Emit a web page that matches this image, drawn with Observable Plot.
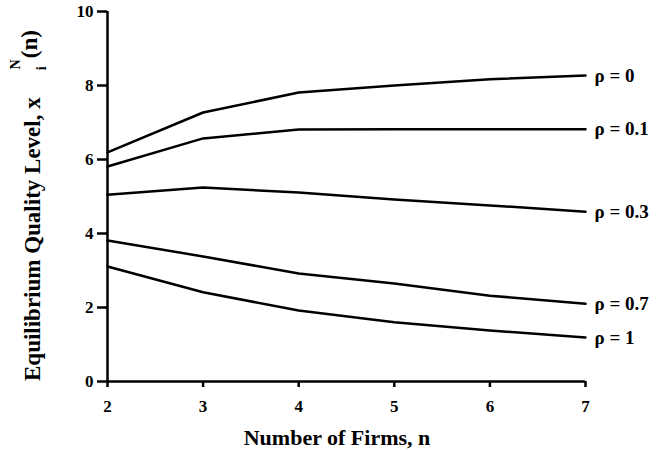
<!DOCTYPE html>
<html><head><meta charset="utf-8">
<script src="https://cdn.jsdelivr.net/npm/d3@7"></script>
<script src="https://cdn.jsdelivr.net/npm/@observablehq/plot@0.6"></script>
<style>
body{margin:0;background:#fff;}
</style></head>
<body><div id="chart"></div>
<script>
const firms = [2, 3, 4, 5, 6, 7];
const seriesLabels = ["ρ = 0", "ρ = 0.1", "ρ = 0.3", "ρ = 0.7", "ρ = 1"];
const rho0   = [6.19, 7.27, 7.81, 8.00, 8.17, 8.27];
const rho01  = [5.81, 6.57, 6.81, 6.82, 6.82, 6.82];
const rho03  = [5.05, 5.24, 5.11, 4.92, 4.76, 4.59];
const rho07  = [3.81, 3.38, 2.92, 2.65, 2.32, 2.10];
const rho1   = [3.11, 2.41, 1.92, 1.60, 1.38, 1.19];
const xTicks = [2, 3, 4, 5, 6, 7];
const yTicks = [0, 2, 4, 6, 8, 10];

const allSeries = [rho0, rho01, rho03, rho07, rho1];
const data = [];
allSeries.forEach((vals, i) => vals.forEach((v, j) => data.push({n: firms[j], x: v, s: seriesLabels[i]})));
const ends = allSeries.map((vals, i) => ({n: firms[firms.length - 1], x: vals[vals.length - 1], s: seriesLabels[i]}));

const FONT = "'Liberation Serif', 'Times New Roman', serif";
const plot = Plot.plot({
  width: 662, height: 450,
  marginLeft: 107, marginRight: 77, marginTop: 11, marginBottom: 69,
  style: `font-family: ${FONT}; background: #fff; color: #000;`,
  x: {domain: [2, 7]},
  y: {domain: [0, 10]},
  marks: [
    Plot.axisX({ticks: xTicks, tickFormat: "d", tickSize: 6, tickPadding: 12, fontSize: 17, fontWeight: "bold", fontFamily: FONT, label: null, strokeWidth: 2.5}),
    Plot.axisY({ticks: yTicks, tickFormat: "d", tickSize: 10, tickPadding: 4, fontSize: 17, fontWeight: "bold", fontFamily: FONT, label: null, strokeWidth: 2.5}),
    Plot.ruleY([0], {stroke: "#000", strokeWidth: 2.5}),
    Plot.ruleX([2], {stroke: "#000", strokeWidth: 2.5}),
    Plot.line(data, {x: "n", y: "x", z: "s", stroke: "#000", strokeWidth: 2.5}),
    Plot.text(ends, {x: "n", y: "x", text: "s", textAnchor: "start", dx: 9, fontSize: 19, fontWeight: "bold", fontFamily: FONT, fill: "#000"})
  ]
});
document.getElementById("chart").appendChild(plot);

const svg = d3.select(plot);
svg.append("text")
  .attr("x", 337).attr("y", 445)
  .attr("text-anchor", "middle")
  .attr("font-family", FONT)
  .attr("font-size", 22).attr("font-weight", "bold").attr("fill", "#000")
  .text("Number of Firms, n");

const yl = svg.append("text")
  .attr("transform", "translate(40,381) rotate(-90)")
  .attr("text-anchor", "start")
  .attr("font-family", FONT)
  .attr("font-size", 23).attr("font-weight", "bold").attr("fill", "#000");
yl.append("tspan").text("Equilibrium Quality Level, x");
yl.append("tspan").attr("dx", 27).attr("dy", 6).attr("font-size", 14).text("i");
yl.append("tspan").attr("dx", -3).attr("dy", -26).attr("font-size", 14).text("N");
yl.append("tspan").attr("dx", 1).attr("dy", 17).text("(n)");
</script></body></html>
